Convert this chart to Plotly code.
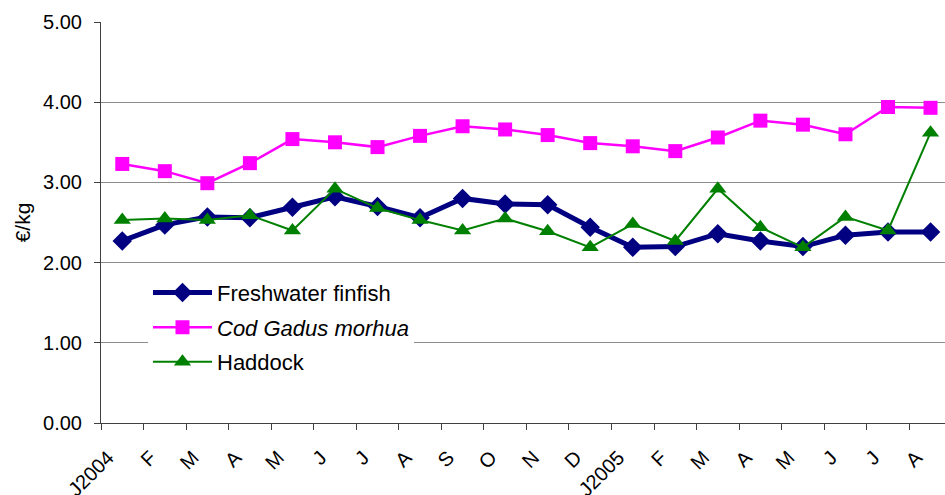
import plotly.graph_objects as go

months = ["J2004", "F", "M", "A", "M", "J", "J", "A", "S", "O", "N", "D",
          "J2005", "F", "M", "A", "M", "J", "J", "A"]

freshwater = [2.27, 2.47, 2.57, 2.56, 2.69, 2.82, 2.70, 2.56, 2.80, 2.73,
              2.72, 2.44, 2.19, 2.20, 2.36, 2.27, 2.20, 2.34, 2.38, 2.38]
cod = [3.23, 3.14, 2.99, 3.24, 3.54, 3.50, 3.44, 3.58, 3.70, 3.66,
       3.59, 3.49, 3.45, 3.39, 3.56, 3.77, 3.72, 3.60, 3.94, 3.93]
haddock = [2.53, 2.55, 2.53, 2.59, 2.40, 2.92, 2.68, 2.53, 2.40, 2.55,
           2.39, 2.19, 2.48, 2.27, 2.92, 2.44, 2.19, 2.57, 2.40, 3.62]

y_ticks = [0, 1, 2, 3, 4, 5]

x = list(range(len(months)))
font_family = "Liberation Sans, Arial, sans-serif"

fig = go.Figure()
fig.add_trace(go.Scatter(
    x=x, y=freshwater, name="Freshwater finfish", mode="lines+markers",
    line=dict(color="#000080", width=5),
    marker=dict(symbol="diamond", size=15, color="#000080"),
    legendgroup="a",
))
fig.add_trace(go.Scatter(
    x=x, y=cod, name="<i>Cod Gadus morhua</i>", mode="lines+markers",
    line=dict(color="#FF00FF", width=2.5),
    marker=dict(symbol="square", size=14, color="#FF00FF"),
    legendgroup="b",
))
fig.add_trace(go.Scatter(
    x=x, y=haddock, name="Haddock", mode="lines+markers",
    line=dict(color="#008000", width=2),
    marker=dict(symbol="triangle-up", size=15, color="#008000"),
    legendgroup="c",
))

fig.update_layout(
    width=945, height=495,
    margin=dict(l=101, r=0, t=22, b=72),
    paper_bgcolor="white", plot_bgcolor="white",
    font=dict(family=font_family, color="black", size=19),
    showlegend=True,
    legend=dict(
        x=47 / 844, xref="paper", xanchor="left",
        y=0.377, yanchor="top",
        bgcolor="white", borderwidth=0,
        font=dict(size=22, family=font_family),
        traceorder="grouped", tracegroupgap=3,
        itemwidth=59,
        entrywidth=285, entrywidthmode="pixels",
    ),
    xaxis=dict(
        range=[-0.5, 19.34],
        tickmode="array",
        tickvals=[i - 0.5 for i in x],
        ticktext=months,
        tickangle=-45,
        ticks="outside", ticklen=6, tickcolor="#404040",
        ticklabelshift=7, ticklabelstandoff=8,
        showline=True, linecolor="#404040", linewidth=1,
        showgrid=False, zeroline=False,
        tickfont=dict(size=20),
        automargin=False,
    ),
    yaxis=dict(
        range=[0, 5],
        tickmode="array", tickvals=y_ticks,
        ticktext=[f"{v:.2f}" for v in y_ticks],
        ticks="outside", ticklen=6, tickcolor="#404040",
        ticklabelstandoff=8,
        showline=True, linecolor="#404040", linewidth=1,
        showgrid=True, gridcolor="#8c8c8c", gridwidth=1,
        zeroline=False,
        tickfont=dict(size=20),
        title=dict(text="€/kg", font=dict(size=21), standoff=6),
        automargin=False,
    ),
)

fig.write_html("out.html")
